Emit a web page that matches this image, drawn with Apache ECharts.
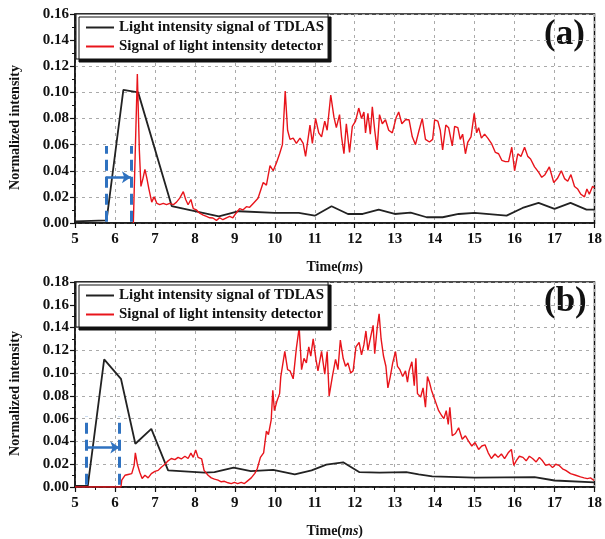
<!DOCTYPE html>
<html>
<head>
<meta charset="utf-8">
<script src="https://cdn.jsdelivr.net/npm/echarts@6/dist/echarts.min.js"></script>
<style>
  html, body { margin: 0; padding: 0; background: #fff; }
  #chart { width: 605px; height: 539px; }
</style>
</head>
<body>
<div id="chart"></div>
<script>
// series names
const nameTdlas = 'Light intensity signal of TDLAS';
const nameDet = 'Signal of light intensity detector';

// panel (a): [time ms, normalized intensity]
const tdlasA = [[5,0.0013],[5.79,0.002],[6.21,0.102],[6.58,0.100],[7.42,0.013],[8.6,0.005],[9.1,0.009],[10.0,0.0077],[10.6,0.0077],[11.0,0.0056],[11.42,0.0128],[11.83,0.0069],[12.2,0.0069],[12.6,0.0103],[13.0,0.0069],[13.4,0.008],[13.8,0.0044],[14.2,0.0044],[14.6,0.0069],[15.0,0.0077],[15.8,0.0056],[16.2,0.0115],[16.6,0.0154],[17.0,0.0108],[17.4,0.0154],[17.8,0.0103],[18,0.0103]];

const detA = [[6.46,0],[6.56,0.114],[6.61,0.056],[6.65,0.028],[6.70,0.034],[6.75,0.041],[6.80,0.034],[6.85,0.026],[6.92,0.016],[6.98,0.020],[7.05,0.015],[7.12,0.014],[7.21,0.015],[7.29,0.014],[7.37,0.015],[7.46,0.014],[7.54,0.016],[7.62,0.019],[7.71,0.024],[7.77,0.018],[7.83,0.014],[7.90,0.018],[7.96,0.011],[8.04,0.010],[8.12,0.0075],[8.21,0.006],[8.29,0.005],[8.37,0.004],[8.45,0.0038],[8.54,0.002],[8.62,0.004],[8.70,0.0025],[8.79,0.004],[8.87,0.005],[8.95,0.004],[9.03,0.0075],[9.12,0.011],[9.20,0.010],[9.29,0.0125],[9.37,0.012],[9.46,0.015],[9.58,0.019],[9.71,0.031],[9.79,0.029],[9.88,0.044],[9.96,0.040],[10.04,0.046],[10.12,0.053],[10.19,0.060],[10.23,0.061],[10.26,0.101],[10.32,0.071],[10.38,0.064],[10.46,0.065],[10.54,0.061],[10.63,0.065],[10.71,0.061],[10.77,0.051],[10.88,0.075],[10.94,0.061],[11.02,0.080],[11.10,0.069],[11.17,0.066],[11.25,0.078],[11.31,0.071],[11.40,0.098],[11.48,0.081],[11.54,0.073],[11.62,0.083],[11.67,0.066],[11.73,0.053],[11.79,0.076],[11.87,0.054],[11.94,0.074],[12.02,0.078],[12.10,0.088],[12.17,0.080],[12.23,0.085],[12.27,0.069],[12.33,0.084],[12.39,0.068],[12.44,0.089],[12.50,0.071],[12.56,0.056],[12.62,0.083],[12.69,0.076],[12.77,0.079],[12.85,0.071],[12.94,0.069],[13.04,0.081],[13.10,0.085],[13.18,0.076],[13.27,0.079],[13.36,0.079],[13.44,0.066],[13.52,0.060],[13.61,0.071],[13.69,0.080],[13.77,0.064],[13.87,0.062],[13.95,0.064],[14.00,0.079],[14.08,0.078],[14.14,0.071],[14.20,0.056],[14.28,0.075],[14.35,0.073],[14.44,0.059],[14.50,0.074],[14.58,0.073],[14.64,0.064],[14.70,0.068],[14.77,0.053],[14.83,0.062],[14.91,0.066],[14.99,0.084],[15.05,0.069],[15.10,0.073],[15.17,0.065],[15.25,0.068],[15.33,0.065],[15.42,0.061],[15.52,0.054],[15.60,0.053],[15.68,0.048],[15.77,0.047],[15.85,0.047],[15.93,0.058],[16.00,0.040],[16.08,0.053],[16.16,0.051],[16.25,0.058],[16.33,0.051],[16.40,0.049],[16.50,0.043],[16.60,0.039],[16.68,0.035],[16.76,0.037],[16.87,0.043],[16.98,0.031],[17.07,0.034],[17.17,0.040],[17.25,0.034],[17.33,0.032],[17.41,0.037],[17.50,0.028],[17.58,0.026],[17.66,0.022],[17.75,0.020],[17.81,0.026],[17.87,0.022],[17.95,0.028],[18.00,0.027]];

// panel (b)
const tdlasB = [[5,0.001],[5.32,0.001],[5.73,0.112],[6.15,0.095],[6.51,0.038],[6.91,0.051],[7.33,0.0146],[8.24,0.0126],[8.49,0.013],[8.97,0.017],[9.4,0.014],[9.96,0.015],[10.5,0.011],[10.92,0.0146],[11.29,0.0197],[11.71,0.0217],[12.12,0.013],[12.62,0.0126],[13.29,0.013],[13.6,0.011],[13.94,0.0094],[15.0,0.0083],[16.5,0.0086],[17.0,0.0057],[18,0.004]];

const detB = [[5,0],[6.15,0],[6.17,0.006],[6.25,0.0103],[6.33,0.011],[6.42,0.0117],[6.48,0.019],[6.51,0.030],[6.56,0.020],[6.62,0.013],[6.68,0.0074],[6.75,0.0103],[6.83,0.008],[6.91,0.0117],[7.0,0.0137],[7.08,0.0146],[7.16,0.0174],[7.25,0.020],[7.33,0.023],[7.41,0.025],[7.5,0.024],[7.58,0.026],[7.66,0.0246],[7.75,0.027],[7.83,0.025],[7.9,0.0297],[7.96,0.026],[8.02,0.0326],[8.08,0.026],[8.17,0.0246],[8.23,0.0146],[8.33,0.0103],[8.41,0.008],[8.49,0.0069],[8.58,0.006],[8.66,0.0046],[8.74,0.005],[8.83,0.0037],[8.91,0.003],[8.99,0.004],[9.07,0.003],[9.16,0.004],[9.24,0.003],[9.32,0.0054],[9.41,0.008],[9.50,0.012],[9.56,0.016],[9.64,0.026],[9.72,0.030],[9.79,0.049],[9.84,0.046],[9.91,0.059],[9.95,0.085],[9.99,0.067],[10.05,0.075],[10.12,0.082],[10.15,0.097],[10.2,0.096],[10.25,0.119],[10.32,0.103],[10.38,0.102],[10.46,0.095],[10.54,0.122],[10.61,0.140],[10.67,0.103],[10.73,0.113],[10.79,0.109],[10.85,0.123],[10.9,0.115],[10.96,0.130],[11.03,0.112],[11.08,0.102],[11.17,0.119],[11.25,0.099],[11.31,0.119],[11.36,0.080],[11.44,0.097],[11.52,0.112],[11.58,0.103],[11.64,0.129],[11.71,0.113],[11.77,0.106],[11.83,0.109],[11.9,0.100],[11.96,0.102],[12.03,0.123],[12.11,0.127],[12.17,0.116],[12.23,0.125],[12.28,0.137],[12.33,0.120],[12.4,0.132],[12.46,0.142],[12.5,0.117],[12.56,0.139],[12.61,0.152],[12.66,0.130],[12.72,0.115],[12.78,0.106],[12.83,0.087],[12.89,0.097],[12.95,0.109],[13.02,0.119],[13.07,0.106],[13.13,0.103],[13.2,0.097],[13.27,0.102],[13.32,0.092],[13.36,0.102],[13.43,0.110],[13.49,0.089],[13.53,0.113],[13.57,0.082],[13.65,0.079],[13.71,0.087],[13.77,0.070],[13.82,0.097],[13.87,0.092],[13.92,0.085],[13.98,0.079],[14.04,0.073],[14.1,0.067],[14.17,0.063],[14.23,0.060],[14.29,0.067],[14.34,0.055],[14.38,0.070],[14.44,0.045],[14.52,0.047],[14.6,0.052],[14.69,0.042],[14.77,0.045],[14.85,0.040],[14.93,0.036],[15.01,0.039],[15.1,0.033],[15.18,0.036],[15.26,0.037],[15.34,0.030],[15.42,0.025],[15.51,0.029],[15.59,0.026],[15.67,0.029],[15.75,0.025],[15.84,0.030],[15.92,0.033],[15.98,0.019],[16.04,0.023],[16.12,0.027],[16.21,0.026],[16.29,0.023],[16.37,0.027],[16.45,0.025],[16.54,0.022],[16.62,0.026],[16.7,0.023],[16.78,0.019],[16.87,0.020],[16.95,0.017],[17.03,0.020],[17.11,0.019],[17.2,0.016],[17.28,0.0146],[17.4,0.0117],[17.53,0.0103],[17.65,0.0089],[17.74,0.008],[17.82,0.0074],[17.9,0.008],[17.99,0.0057]];

// blue delay markers: [left time, right time], [bottom, top, arrow level]
const markTimesA = [5.77, 6.40];
const markLevelsA = [0.001, 0.059, 0.035];
const markTimesB = [5.28, 6.11];
const markLevelsB = [0.002, 0.062, 0.0346];

// axes
const xRange = [5, 18];
const yMaxA = 0.16;
const yMaxB = 0.18;
const panelLabels = ['(a)', '(b)'];

const serif = 'Liberation Serif';
const blue = '#2f72c0';

function markerLines(times, levels) {
    const dashed = { type: [11, 6], width: 3, color: blue };
    return [
        [{ coord: [times[0], levels[0]], lineStyle: dashed }, { coord: [times[0], levels[1]] }],
        [{ coord: [times[1], levels[0]], lineStyle: dashed }, { coord: [times[1], levels[1]] }],
        [{ coord: [times[0], levels[2]], symbol: 'none', lineStyle: { type: 'solid', width: 2.5, color: blue } },
         { coord: [times[1], levels[2]], symbol: 'arrow' }]
    ];
}

function xAxisFor(idx) {
    return {
        type: 'value', gridIndex: idx, min: xRange[0], max: xRange[1], interval: 1,
        name: '{a|Time(}{b|ms}{a|)}', nameLocation: 'middle', nameGap: 37,
        nameTextStyle: {
            rich: {
                a: { fontFamily: serif, fontWeight: 'bold', fontSize: 14, color: '#111' },
                b: { fontFamily: serif, fontWeight: 'bold', fontStyle: 'italic', fontSize: 14, color: '#111' }
            }
        },
        axisLine: { show: true, onZero: false, lineStyle: { color: '#111', width: 1.5 } },
        axisTick: { show: true, inside: false, length: 5, lineStyle: { color: '#111', width: 1.2 } },
        minorTick: { show: true, splitNumber: 2, length: 3, lineStyle: { color: '#111' } },
        axisLabel: { fontFamily: serif, fontWeight: 'bold', fontSize: 15, color: '#111', margin: 9 },
        splitLine: { show: true, lineStyle: { color: '#aaa', type: [3, 4], width: 1 } }
    };
}

function yAxisFor(idx, max) {
    return {
        type: 'value', gridIndex: idx, min: 0, max: max, interval: 0.02,
        name: 'Normalized intensity', nameLocation: 'middle', nameGap: 53,
        nameTextStyle: { fontFamily: serif, fontWeight: 'bold', fontSize: 14, color: '#111', padding: [0, 18, 0, 0] },
        axisLine: { show: true, lineStyle: { color: '#111', width: 1.5 } },
        axisTick: { show: true, inside: false, length: 5, lineStyle: { color: '#111', width: 1.2 } },
        minorTick: { show: true, splitNumber: 2, length: 3, lineStyle: { color: '#111' } },
        axisLabel: {
            fontFamily: serif, fontWeight: 'bold', fontSize: 15, color: '#111', margin: 6,
            formatter: v => v.toFixed(2)
        },
        splitLine: { show: true, lineStyle: { color: '#aaa', type: [3, 4], width: 1 } }
    };
}

function legendFor(top) {
    return {
        data: [nameTdlas, nameDet],
        orient: 'vertical', left: 76, top: top,
        icon: 'rect', itemWidth: 28, itemHeight: 2, itemGap: 4,
        padding: [6, 4, 5, 10],
        backgroundColor: '#fff',
        borderColor: '#111', borderWidth: 1,
        shadowColor: '#111', shadowBlur: 0, shadowOffsetX: 3, shadowOffsetY: 3,
        textStyle: { fontFamily: serif, fontWeight: 'bold', fontSize: 15, color: '#111' },
        selectedMode: false
    };
}

const chart = echarts.init(document.getElementById('chart'));

const option = {
    backgroundColor: '#fff',
    animation: false,
    grid: [
        { left: 73, right: 8, top: 14, height: 209, show: true, borderColor: '#111', borderWidth: 1.5, backgroundColor: 'transparent' },
        { left: 73, right: 8, top: 282, height: 210, show: true, borderColor: '#111', borderWidth: 1.5, backgroundColor: 'transparent' }
    ],
    xAxis: [xAxisFor(0), xAxisFor(1)],
    yAxis: [yAxisFor(0, yMaxA), yAxisFor(1, yMaxB)],
    legend: [legendFor(14), legendFor(282)],
    graphic: [
        { type: 'text', left: 544, top: 17, style: { text: panelLabels[0], font: 'bold 35px "Liberation Serif"', fill: '#111' } },
        { type: 'text', left: 544, top: 284, style: { text: panelLabels[1], font: 'bold 35px "Liberation Serif"', fill: '#111' } }
    ],
    series: [
        { name: nameTdlas, type: 'line', xAxisIndex: 0, yAxisIndex: 0, data: tdlasA, showSymbol: false, lineStyle: { color: '#222', width: 1.8 }, itemStyle: { color: '#222' } },
        { name: nameDet, type: 'line', xAxisIndex: 0, yAxisIndex: 0, data: detA, showSymbol: false, lineStyle: { color: '#e8141b', width: 1.4 }, itemStyle: { color: '#e8141b' } },
        { name: nameTdlas, type: 'line', xAxisIndex: 1, yAxisIndex: 1, data: tdlasB, showSymbol: false, lineStyle: { color: '#222', width: 1.8 }, itemStyle: { color: '#222' } },
        { name: nameDet, type: 'line', xAxisIndex: 1, yAxisIndex: 1, data: detB, showSymbol: false, lineStyle: { color: '#e8141b', width: 1.4 }, itemStyle: { color: '#e8141b' } },
        { name: 'markA', type: 'line', xAxisIndex: 0, yAxisIndex: 0, data: [], silent: true,
          markLine: { silent: true, symbol: 'none', symbolSize: 9, label: { show: false }, emphasis: { disabled: true }, data: markerLines(markTimesA, markLevelsA) } },
        { name: 'markB', type: 'line', xAxisIndex: 1, yAxisIndex: 1, data: [], silent: true,
          markLine: { silent: true, symbol: 'none', symbolSize: 9, label: { show: false }, emphasis: { disabled: true }, data: markerLines(markTimesB, markLevelsB) } }
    ]
};

chart.setOption(option);

window.addEventListener('resize', function () {
    chart.resize();
});
</script>
</body>
</html>
